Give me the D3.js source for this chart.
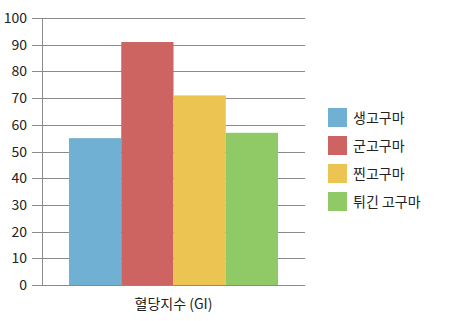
<!DOCTYPE html>
<html>
<head>
<meta charset="utf-8">
<script src="https://cdn.jsdelivr.net/npm/d3@7"></script>
<style>
  body { margin: 0; background: #fff; }
  text { font-family: "Noto Sans CJK KR", "Noto Sans", sans-serif; fill: #222; }
</style>
</head>
<body>
<svg width="453" height="321"></svg>
<script>
const category = '혈당지수 (GI)'
const seriesNames = ['생고구마', '군고구마', '찐고구마', '튀긴 고구마']
const seriesValues = [55, 91, 71, 57]
const seriesColors = ['#70b0d2', '#cd6462', '#ebc452', '#90ca66']
const yTicks = [0, 10, 20, 30, 40, 50, 60, 70, 80, 90, 100]

const svg = d3.select('svg')
const margin = { top: 18, right: 148, bottom: 36, left: 42 }
const innerWidth = 453 - margin.left - margin.right
const innerHeight = 321 - margin.top - margin.bottom

const g = svg.append('g')
  .attr('transform', `translate(${margin.left},${margin.top})`)

const yScale = d3.scaleLinear().domain([0, 100]).range([innerHeight, 0])

const x0 = d3.scaleBand()
  .domain([category])
  .range([0, innerWidth])
  .paddingInner(0)
  .paddingOuter(0.129)

const x1 = d3.scaleBand()
  .domain(seriesNames)
  .range([0, x0.bandwidth()])

// gridlines
g.selectAll('line.grid').data(yTicks).enter()
  .append('line')
  .attr('class', 'grid')
  .attr('x1', -10)
  .attr('x2', innerWidth)
  .attr('y1', d => Math.round(yScale(d)) + 0.5)
  .attr('y2', d => Math.round(yScale(d)) + 0.5)
  .attr('stroke', '#8a8a8a')
  .attr('stroke-width', 1)

// bars
g.selectAll('rect.bar').data(seriesValues).enter()
  .append('rect')
  .attr('class', 'bar')
  .attr('x', (d, i) => x0(category) + x1(seriesNames[i]))
  .attr('y', d => yScale(d))
  .attr('width', x1.bandwidth())
  .attr('height', d => innerHeight - yScale(d))
  .attr('fill', (d, i) => seriesColors[i])

// y axis line
g.append('line')
  .attr('x1', 0.5).attr('x2', 0.5)
  .attr('y1', 0).attr('y2', innerHeight)
  .attr('stroke', '#8a8a8a')

// bottom axis line
g.append('line')
  .attr('x1', 0).attr('x2', innerWidth)
  .attr('y1', innerHeight + 0.5).attr('y2', innerHeight + 0.5)
  .attr('stroke', '#8a8a8a')

// y tick labels
g.selectAll('text.ytick').data(yTicks).enter()
  .append('text')
  .attr('class', 'ytick')
  .attr('x', -15)
  .attr('y', d => yScale(d) + 5)
  .attr('text-anchor', 'end')
  .style('font-size', '14px')
  .text(d => d)

// category label
g.append('text')
  .attr('x', x0(category) + x0.bandwidth() / 2)
  .attr('y', innerHeight + 24)
  .attr('text-anchor', 'middle')
  .style('font-size', '14px')
  .text(category)

// legend
const legend = svg.append('g').attr('transform', 'translate(328,108)')
const item = legend.selectAll('g').data(seriesNames).enter()
  .append('g')
  .attr('transform', (d, i) => `translate(0,${i * 28})`)
item.append('rect')
  .attr('width', 19).attr('height', 19)
  .attr('fill', (d, i) => seriesColors[i])
item.append('text')
  .attr('x', 25)
  .attr('y', 15)
  .style('font-size', '14px')
  .text(d => d)
</script>
</body>
</html>
